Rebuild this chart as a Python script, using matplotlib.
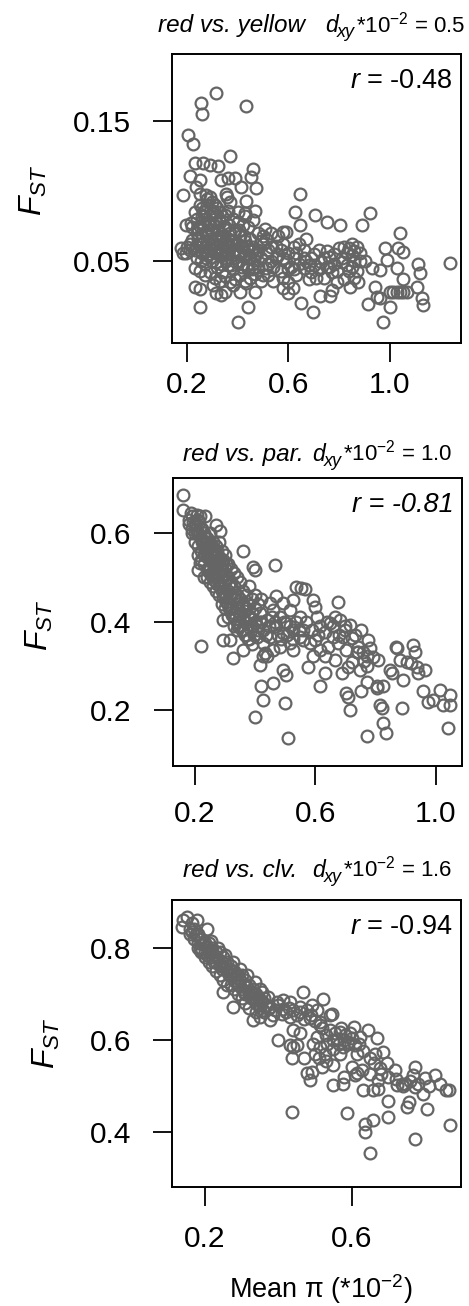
import matplotlib
matplotlib.use("Agg")
import matplotlib.pyplot as plt
import numpy as np

plt.rcParams['font.family'] = ['Liberation Sans', 'DejaVu Sans']
plt.rcParams['mathtext.fontset'] = 'custom'
plt.rcParams['mathtext.rm'] = 'Liberation Sans'
plt.rcParams['mathtext.it'] = 'Liberation Sans:italic'
plt.rcParams['mathtext.bf'] = 'Liberation Sans:bold'

# ---------------- data ----------------
titles = ["red vs. yellow", "red vs. par.", "red vs. clv."]
dxy_values = ["0.5", "1.0", "1.6"]
r_values = ["-0.48", "-0.81", "-0.94"]
x_ticks = [[0.2, 0.6, 1.0], [0.2, 0.6, 1.0], [0.2, 0.6]]
x_ticklabels = [["0.2", "0.6", "1.0"], ["0.2", "0.6", "1.0"], ["0.2", "0.6"]]
y_ticks = [[0.05, 0.15], [0.2, 0.4, 0.6], [0.4, 0.6, 0.8]]
y_ticklabels = [["0.05", "0.15"], ["0.2", "0.4", "0.6"], ["0.4", "0.6", "0.8"]]

yellow_pts = [
    (0.316,0.170),(0.257,0.163),(0.259,0.155),(0.434,0.161),(0.204,0.140),(0.224,0.134),(0.368,0.125),
    (0.230,0.120),(0.263,0.120),(0.292,0.119),(0.322,0.118),(0.461,0.116),(0.210,0.111),(0.454,0.110),
    (0.250,0.108),(0.336,0.108),(0.362,0.109),(0.388,0.109),(0.237,0.103),(0.414,0.103),(0.474,0.102),
    (0.184,0.097),(0.250,0.098),(0.276,0.097),(0.290,0.096),(0.355,0.098),(0.358,0.096),(0.645,0.098),
    (0.368,0.092),(0.434,0.093),(0.230,0.085),(0.263,0.085),(0.303,0.086),(0.428,0.084),(0.467,0.086),
    (0.625,0.085),(0.704,0.083),(0.750,0.078),(0.803,0.076),(0.920,0.0845),(0.888,0.0755),(0.645,0.0757),
    (0.197,0.0757),(0.217,0.077),(0.507,0.073),(0.579,0.071),(0.592,0.071),(1.039,0.070),(0.671,0.0657),
    (0.178,0.059),(0.184,0.0555),(0.197,0.0555),(0.980,0.059),(1.033,0.059),(1.053,0.0567),(1.237,0.0483),
    (1.112,0.0479),(1.118,0.0412),(0.987,0.0507),(0.928,0.0448),(0.961,0.0436),(1.026,0.0448),(1.053,0.0369),
    (1.105,0.0317),(1.000,0.028),(1.013,0.028),(1.026,0.028),(1.039,0.028),(1.053,0.028),(1.066,0.028),
    (0.941,0.0317),(0.947,0.0245),(0.961,0.0233),(0.914,0.0193),(1.000,0.0174),(1.125,0.0233),(1.132,0.0186),
    (0.974,0.0067),(0.401,0.0067),(0.441,0.0174),(0.250,0.0174),(0.697,0.0138),(0.651,0.0198),(0.230,0.0317),
    (0.250,0.0298),(0.316,0.0269),(0.336,0.0257),(0.349,0.0281),(0.408,0.0281),(0.467,0.0281),(0.579,0.0305),
    (0.618,0.0305),(0.599,0.0269),(0.724,0.025),(0.763,0.025),(0.770,0.0293),(0.842,0.0317),(0.875,0.0352),
    (0.303,0.0329),(0.382,0.0329),(0.434,0.034),
    (0.22,0.065),(0.23,0.058),(0.24,0.070),(0.24,0.052),(0.25,0.062),(0.25,0.075),(0.26,0.068),(0.26,0.056),
    (0.27,0.060),(0.27,0.080),(0.27,0.048),(0.28,0.072),(0.28,0.064),(0.28,0.054),(0.29,0.066),(0.29,0.058),
    (0.29,0.076),(0.30,0.062),(0.30,0.070),(0.30,0.050),(0.31,0.056),(0.31,0.066),(0.31,0.080),(0.32,0.060),
    (0.32,0.072),(0.32,0.046),(0.33,0.064),(0.33,0.054),(0.33,0.078),(0.34,0.058),(0.34,0.068),(0.34,0.042),
    (0.35,0.062),(0.35,0.052),(0.35,0.074),(0.36,0.056),(0.36,0.066),(0.36,0.047),(0.37,0.060),(0.37,0.070),
    (0.38,0.054),(0.38,0.064),(0.38,0.044),(0.39,0.058),(0.39,0.072),(0.40,0.050),(0.40,0.062),(0.41,0.056),
    (0.41,0.068),(0.42,0.048),(0.42,0.060),(0.43,0.054),(0.43,0.064),(0.44,0.044),(0.44,0.058),(0.45,0.052),
    (0.45,0.066),(0.46,0.048),(0.46,0.060),(0.47,0.054),(0.48,0.046),(0.48,0.058),(0.49,0.052),(0.50,0.040),
    (0.50,0.062),(0.26,0.088),(0.28,0.090),(0.30,0.084),(0.32,0.088),(0.34,0.082),(0.36,0.086),(0.38,0.080),
    (0.40,0.078),(0.42,0.076),(0.44,0.074),(0.26,0.082),(0.29,0.083),(0.24,0.080),(0.22,0.074),(0.21,0.062),
    (0.21,0.058),(0.20,0.060),(0.23,0.045),(0.25,0.043),(0.27,0.040),(0.29,0.042),(0.31,0.038),(0.33,0.036),
    (0.35,0.039),(0.37,0.035),(0.39,0.037),(0.41,0.040),(0.43,0.036),(0.45,0.038),(0.47,0.041),(0.49,0.036),
    (0.51,0.066),(0.52,0.058),(0.53,0.050),(0.51,0.045),(0.52,0.040),(0.54,0.036),(0.55,0.061),(0.56,0.054),
    (0.54,0.046),(0.57,0.043),(0.58,0.038),(0.59,0.049),(0.60,0.056),(0.61,0.046),(0.62,0.052),(0.63,0.040),
    (0.64,0.048),(0.60,0.035),(0.56,0.068),(0.53,0.070),(0.58,0.062),(0.62,0.060),
    (0.66,0.052),(0.68,0.047),(0.69,0.042),(0.72,0.044),(0.74,0.052),(0.75,0.057),(0.77,0.042),(0.78,0.048),
    (0.80,0.059),(0.81,0.049),(0.83,0.056),(0.84,0.059),(0.85,0.054),(0.86,0.050),(0.87,0.043),(0.84,0.043),
    (0.82,0.037),(0.74,0.038),(0.71,0.038),(0.68,0.037),(0.79,0.035),(0.86,0.038),(0.90,0.050),(0.70,0.055),
    (0.72,0.058),(0.66,0.058),(0.76,0.046),(0.88,0.056),
    (0.235,0.061),(0.245,0.066),(0.255,0.057),(0.265,0.063),(0.275,0.069),(0.285,0.059),(0.295,0.072),
    (0.305,0.058),(0.315,0.062),(0.325,0.067),(0.335,0.059),(0.345,0.063),(0.355,0.057),(0.365,0.061),
    (0.375,0.065),(0.385,0.058),(0.395,0.062),(0.405,0.055),(0.415,0.060),(0.425,0.057),(0.435,0.061),
    (0.445,0.053),(0.455,0.057),(0.465,0.051),(0.475,0.056),(0.245,0.073),(0.265,0.076),(0.285,0.078),
    (0.305,0.075),(0.325,0.079),(0.345,0.073),(0.365,0.076),(0.385,0.070),(0.405,0.072),(0.425,0.068),
    (0.255,0.050),(0.275,0.052),(0.295,0.053),(0.315,0.049),(0.335,0.048),(0.355,0.050),(0.375,0.047),
    (0.395,0.049),(0.415,0.046),(0.435,0.047),(0.455,0.044),(0.28,0.094),(0.30,0.092),(0.27,0.086),
    (0.31,0.090),(0.33,0.085),(0.35,0.083),(0.25,0.090),(0.40,0.085),(0.43,0.082),(0.46,0.079),(0.48,0.070),
    (0.50,0.068),(0.49,0.064),(0.51,0.056),(0.53,0.060),(0.55,0.052),(0.52,0.048),(0.57,0.058),(0.58,0.052),
    (0.60,0.044),(0.62,0.044),(0.63,0.056),(0.64,0.062),(0.66,0.045),(0.67,0.050),(0.69,0.052),(0.70,0.047),
    (0.73,0.049),(0.75,0.046),(0.76,0.053),(0.78,0.055),(0.79,0.043),(0.81,0.052),(0.82,0.060),(0.83,0.047),
    (0.85,0.046),(0.86,0.057),(0.87,0.060),(0.88,0.050),(0.85,0.062),
]

par_pts = [
    (0.161,0.687),(0.161,0.653),(0.189,0.646),(0.206,0.642),(0.217,0.638),(0.233,0.638),(0.272,0.619),
    (0.283,0.604),(0.360,0.559),(0.466,0.528),(0.217,0.532),(0.211,0.517),(0.394,0.524),(0.399,0.517),
    (0.537,0.479),(0.554,0.476),(0.565,0.474),(0.526,0.449),(0.593,0.449),(0.598,0.434),(0.676,0.445),
    (0.222,0.345),(0.294,0.359),(0.316,0.359),(0.327,0.317),(0.360,0.336),(0.294,0.404),(0.416,0.302),
    (0.427,0.321),(0.432,0.328),(0.421,0.253),(0.427,0.223),(0.460,0.260),(0.493,0.291),(0.504,0.279),
    (0.399,0.185),(0.499,0.215),(0.510,0.136),(0.576,0.298),(0.615,0.253),(0.632,0.283),(0.703,0.238),
    (0.709,0.230),(0.715,0.200),(0.753,0.242),(0.770,0.140),(0.803,0.253),(0.825,0.253),(0.814,0.211),
    (0.820,0.204),(0.825,0.170),(0.836,0.147),(0.886,0.204),(0.892,0.268),(0.847,0.291),(0.853,0.283),
    (0.869,0.343),(0.871,0.340),(0.880,0.313),(0.903,0.309),(0.925,0.347),(0.931,0.332),(0.919,0.306),
    (0.936,0.298),(0.964,0.291),(0.942,0.283),(0.958,0.242),(0.975,0.219),(0.991,0.223),(1.013,0.245),
    (1.046,0.234),(1.024,0.211),(1.046,0.211),(1.040,0.158),(0.748,0.291),(0.770,0.264),(0.803,0.249),
    (0.808,0.313),(0.770,0.321),(0.759,0.332),(0.776,0.359),(0.753,0.381),(0.687,0.283),(0.709,0.298),
    (0.720,0.309),(0.737,0.332),(0.742,0.343),
    (0.604,0.411),(0.615,0.389),(0.632,0.377),(0.648,0.396),(0.665,0.411),(0.681,0.404),(0.698,0.389),
    (0.715,0.393),(0.659,0.366),(0.676,0.351),(0.643,0.343),(0.615,0.336),(0.593,0.321),(0.582,0.351),
    (0.598,0.359),(0.632,0.321),(0.665,0.313),(0.703,0.336),(0.720,0.362),(0.692,0.366),
    (0.416,0.419),(0.438,0.404),(0.460,0.426),(0.482,0.411),(0.504,0.396),(0.526,0.381),(0.549,0.411),
    (0.549,0.366),(0.515,0.351),(0.493,0.374),(0.471,0.389),(0.449,0.366),(0.427,0.351),(0.405,0.366),
    (0.460,0.336),(0.438,0.321),(0.482,0.343),(0.526,0.336),(0.560,0.359),(0.560,0.381),(0.471,0.457),
    (0.493,0.442),(0.515,0.426),(0.449,0.442),
    (0.18,0.63),(0.18,0.62),(0.19,0.64),(0.19,0.61),(0.19,0.60),(0.20,0.62),(0.20,0.60),(0.20,0.58),
    (0.21,0.63),(0.21,0.60),(0.21,0.57),(0.21,0.55),(0.22,0.61),(0.22,0.59),(0.22,0.56),(0.22,0.54),
    (0.23,0.60),(0.23,0.58),(0.23,0.55),(0.23,0.53),(0.23,0.50),(0.24,0.59),(0.24,0.57),(0.24,0.55),
    (0.24,0.52),(0.24,0.50),(0.25,0.60),(0.25,0.57),(0.25,0.54),(0.25,0.52),(0.25,0.49),(0.26,0.58),
    (0.26,0.56),(0.26,0.53),(0.26,0.51),(0.26,0.48),(0.27,0.57),(0.27,0.55),(0.27,0.52),(0.27,0.50),
    (0.27,0.47),(0.28,0.58),(0.28,0.54),(0.28,0.51),(0.28,0.49),(0.28,0.46),(0.29,0.56),(0.29,0.53),
    (0.29,0.50),(0.29,0.47),(0.29,0.44),(0.30,0.55),(0.30,0.52),(0.30,0.49),(0.30,0.46),(0.30,0.43),
    (0.31,0.53),(0.31,0.50),(0.31,0.47),(0.31,0.44),(0.31,0.41),(0.32,0.52),(0.32,0.49),(0.32,0.46),
    (0.32,0.43),(0.33,0.51),(0.33,0.48),(0.33,0.45),(0.33,0.42),(0.33,0.39),(0.34,0.50),(0.34,0.46),
    (0.34,0.43),(0.34,0.40),(0.34,0.38),(0.35,0.49),(0.35,0.45),(0.35,0.42),(0.35,0.39),(0.36,0.47),
    (0.36,0.44),(0.36,0.41),(0.36,0.38),(0.37,0.46),(0.37,0.43),(0.37,0.40),(0.37,0.37),(0.38,0.48),
    (0.38,0.44),(0.38,0.41),(0.38,0.36),(0.39,0.45),(0.39,0.42),(0.39,0.39),(0.39,0.35),(0.40,0.46),
    (0.40,0.43),(0.40,0.40),(0.41,0.44),(0.41,0.38),(0.42,0.45),(0.42,0.40),
    (0.195,0.625),(0.205,0.61),(0.215,0.595),(0.225,0.58),(0.235,0.565),(0.245,0.545),(0.255,0.555),
    (0.265,0.545),(0.275,0.535),(0.285,0.525),(0.295,0.515),(0.305,0.505),(0.315,0.485),(0.325,0.475),
    (0.335,0.465),(0.345,0.455),(0.355,0.435),(0.365,0.425),(0.375,0.415),(0.385,0.405),(0.215,0.625),
    (0.225,0.61),(0.235,0.59),(0.245,0.58),(0.255,0.575),(0.265,0.565),(0.275,0.56),(0.285,0.545),
    (0.295,0.54),(0.305,0.53),(0.245,0.515),(0.255,0.505),(0.265,0.495),(0.275,0.485),(0.285,0.48),
    (0.295,0.455),(0.305,0.445),(0.315,0.43),(0.325,0.415),(0.335,0.405),(0.345,0.39),(0.355,0.38),
    (0.365,0.37),(0.375,0.36),(0.385,0.38),(0.395,0.37),(0.405,0.39),(0.415,0.40),(0.425,0.38),
    (0.435,0.37),(0.445,0.39),(0.455,0.41),(0.465,0.40),(0.475,0.37),(0.485,0.36),(0.495,0.40),
    (0.505,0.37),(0.515,0.39),(0.525,0.36),(0.535,0.40),(0.545,0.38),(0.57,0.40),(0.59,0.38),(0.61,0.37),
    (0.64,0.40),(0.66,0.39),(0.68,0.37),(0.70,0.38),(0.73,0.37),(0.74,0.33),(0.76,0.31),(0.78,0.34),
    (0.79,0.32),(0.77,0.30),
]

clv_pts = [
    (0.141,0.860),(0.150,0.868),(0.136,0.846),(0.164,0.853),(0.177,0.860),(0.205,0.842),(0.250,0.705),
    (0.277,0.672),(0.332,0.643),(0.377,0.643),(0.468,0.705),(0.523,0.688),(0.441,0.621),(0.459,0.614),
    (0.400,0.599),(0.436,0.560),(0.432,0.588),(0.441,0.585),(0.450,0.588),(0.545,0.657),(0.541,0.655),
    (0.477,0.527),(0.486,0.512),(0.491,0.530),(0.518,0.541),(0.550,0.501),(0.577,0.505),(0.609,0.523),
    (0.614,0.527),(0.436,0.443),(0.586,0.440),(0.636,0.418),(0.636,0.400),(0.659,0.425),(0.650,0.354),
    (0.700,0.433),(0.773,0.385),(0.868,0.415),(0.805,0.449),(0.750,0.454),(0.755,0.465),(0.700,0.467),
    (0.632,0.491),(0.659,0.491),(0.673,0.494),(0.723,0.501),(0.736,0.505),(0.745,0.505),(0.773,0.498),
    (0.795,0.483),(0.773,0.541),(0.768,0.523),(0.800,0.516),(0.827,0.523),(0.857,0.491),(0.866,0.491),
    (0.664,0.570),(0.686,0.574),(0.695,0.549),(0.718,0.534),(0.677,0.538),(0.673,0.512),(0.650,0.525),
    (0.627,0.534),(0.645,0.621),(0.668,0.603),(0.623,0.607),
    (0.541,0.621),(0.555,0.614),(0.568,0.618),(0.582,0.610),(0.595,0.614),(0.605,0.628),(0.550,0.599),
    (0.564,0.592),(0.577,0.585),(0.591,0.596),(0.609,0.589),(0.614,0.570),(0.568,0.570),(0.550,0.581),
    (0.532,0.592),(0.527,0.570),(0.514,0.585),(0.500,0.570),(0.495,0.592),(0.505,0.607),(0.514,0.632),
    (0.395,0.683),(0.414,0.686),(0.432,0.683),(0.441,0.665),(0.459,0.672),(0.477,0.665),(0.491,0.676),
    (0.505,0.665),(0.486,0.647),(0.514,0.639),(0.432,0.650),(0.409,0.657),(0.414,0.668),(0.377,0.672),
    (0.359,0.665),(0.350,0.650),(0.386,0.654),(0.373,0.693),(0.350,0.686),
    (0.16,0.84),(0.16,0.83),(0.17,0.84),(0.17,0.82),(0.18,0.83),(0.18,0.81),(0.18,0.80),(0.19,0.82),
    (0.19,0.80),(0.19,0.79),(0.20,0.81),(0.20,0.79),(0.20,0.78),(0.21,0.81),(0.21,0.79),(0.21,0.77),
    (0.22,0.80),(0.22,0.78),(0.22,0.76),(0.23,0.79),(0.23,0.77),(0.23,0.75),(0.24,0.79),(0.24,0.76),
    (0.24,0.74),(0.25,0.78),(0.25,0.76),(0.25,0.73),(0.26,0.77),(0.26,0.75),(0.26,0.72),(0.27,0.76),
    (0.27,0.74),(0.27,0.72),(0.28,0.75),(0.28,0.73),(0.28,0.71),(0.29,0.74),(0.29,0.72),(0.29,0.70),
    (0.30,0.74),(0.30,0.71),(0.30,0.69),(0.31,0.73),(0.31,0.70),(0.31,0.68),(0.32,0.72),(0.32,0.70),
    (0.32,0.67),(0.33,0.71),(0.33,0.69),(0.34,0.70),(0.34,0.68),(0.34,0.66),(0.35,0.71),(0.35,0.67),
    (0.36,0.69),(0.36,0.66),
    (0.165,0.835),(0.175,0.83),(0.185,0.82),(0.195,0.81),(0.205,0.80),(0.215,0.795),(0.225,0.785),
    (0.235,0.775),(0.245,0.77),(0.255,0.765),(0.265,0.755),(0.275,0.75),(0.285,0.74),(0.295,0.73),
    (0.305,0.72),(0.315,0.715),(0.325,0.705),(0.335,0.70),(0.345,0.69),(0.355,0.685),(0.365,0.675),
    (0.375,0.67),(0.185,0.795),(0.205,0.785),(0.225,0.77),(0.245,0.755),(0.265,0.74),(0.285,0.725),
    (0.305,0.705),(0.325,0.69),(0.345,0.675),(0.215,0.815),(0.235,0.80),(0.255,0.785),(0.275,0.77),
    (0.295,0.755),(0.315,0.74),(0.335,0.725),(0.355,0.705),
    (0.39,0.665),(0.40,0.675),(0.42,0.66),(0.43,0.67),(0.45,0.655),(0.46,0.66),(0.47,0.645),(0.49,0.655),
    (0.50,0.64),(0.52,0.625),(0.53,0.61),(0.56,0.60),(0.57,0.625),(0.58,0.60),(0.59,0.59),(0.60,0.605),
    (0.62,0.59),(0.63,0.575),(0.65,0.56),(0.66,0.55),(0.68,0.525),(0.70,0.52),(0.72,0.515),(0.74,0.50),
    (0.76,0.51),(0.78,0.505),(0.81,0.50),(0.84,0.505),(0.60,0.54),(0.58,0.52),(0.55,0.545),(0.53,0.555),
    (0.51,0.56),(0.47,0.56),
]
datasets = [yellow_pts, par_pts, clv_pts]

# ---------------- layout ----------------
W, H = 469, 1306
fig = plt.figure(figsize=(W / 100, H / 100), dpi=100)

boxes = [(172, 54, 461, 343), (172.5, 478, 461.5, 766), (172, 900, 461, 1187)]
xlims = [(0.141, 1.28), (0.126, 1.085), (0.11, 0.898)]
ylims = [(-0.0086, 0.198), (0.073, 0.725), (0.28, 0.904)]
xpads = [7, 11, 14]
ylab_x = [-0.481, -0.459, -0.433]
ylab_y = [0.529, 0.49, 0.502]
title_left = [158, 183, 183]
title_right = [465, 452, 452]
title_base = [32, 461, 877]

grey = '#656565'
for i in range(3):
    l, t, r, b = boxes[i]
    ax = fig.add_axes([l / W, 1 - b / H, (r - l) / W, (b - t) / H])
    pts = np.array(datasets[i])
    ax.plot(pts[:, 0], pts[:, 1], 'o', mfc='none', mec=grey, ms=8.5, mew=1.6)
    ax.set_xlim(*xlims[i])
    ax.set_ylim(*ylims[i])
    ax.set_xticks(x_ticks[i])
    ax.set_xticklabels(x_ticklabels[i])
    ax.set_yticks(y_ticks[i])
    ax.set_yticklabels(y_ticklabels[i])
    ax.tick_params(axis='both', direction='out', length=13.5, width=1.3,
                   labelsize=21.5, color='black')
    ax.tick_params(axis='x', pad=xpads[i])
    ax.tick_params(axis='y', pad=16)
    for s in ax.spines.values():
        s.set_linewidth(1.4)
    # correlation text
    if i == 1:
        ax.text(0.972, 0.905, 'r = ' + r_values[i], transform=ax.transAxes, ha='right',
                va='center', fontsize=19.5, style='italic')
    else:
        ax.text(0.972, 0.905, r'$r$ = ' + r_values[i], transform=ax.transAxes,
                ha='right', va='center', fontsize=19.5)
    ax.text(ylab_x[i], ylab_y[i], r'$F_{ST}$', transform=ax.transAxes, rotation=90,
            ha='center', va='center', fontsize=23)
    # titles
    fig.text(title_left[i] / W, 1 - title_base[i] / H, titles[i], ha='left', va='baseline',
             fontsize=17.5, style='italic')

fig.text(321 / W, 1 - 1298 / H, r'Mean π (*10$^{\mathregular{-2}}$)', ha='center',
         va='baseline', fontsize=19.5)

# d_xy annotations, composed right-to-left
fig.canvas.draw()
renderer = fig.canvas.get_renderer()
for i in range(3):
    yb = 1 - title_base[i] / H
    t1 = fig.text(title_right[i] / W, yb, r'*10$^{\mathregular{-2}}$ = ' + dxy_values[i],
                  ha='right', va='baseline', fontsize=16)
    x1 = t1.get_window_extent(renderer).x0
    t2 = fig.text((x1 - 0.5) / W, yb - 5 / H, 'xy', ha='right', va='baseline',
                  fontsize=13, style='italic')
    x2 = t2.get_window_extent(renderer).x0
    fig.text((x2 + 0.5) / W, yb, 'd', ha='right', va='baseline', fontsize=16.5,
             style='italic')

fig.savefig('out.png', dpi=100)
